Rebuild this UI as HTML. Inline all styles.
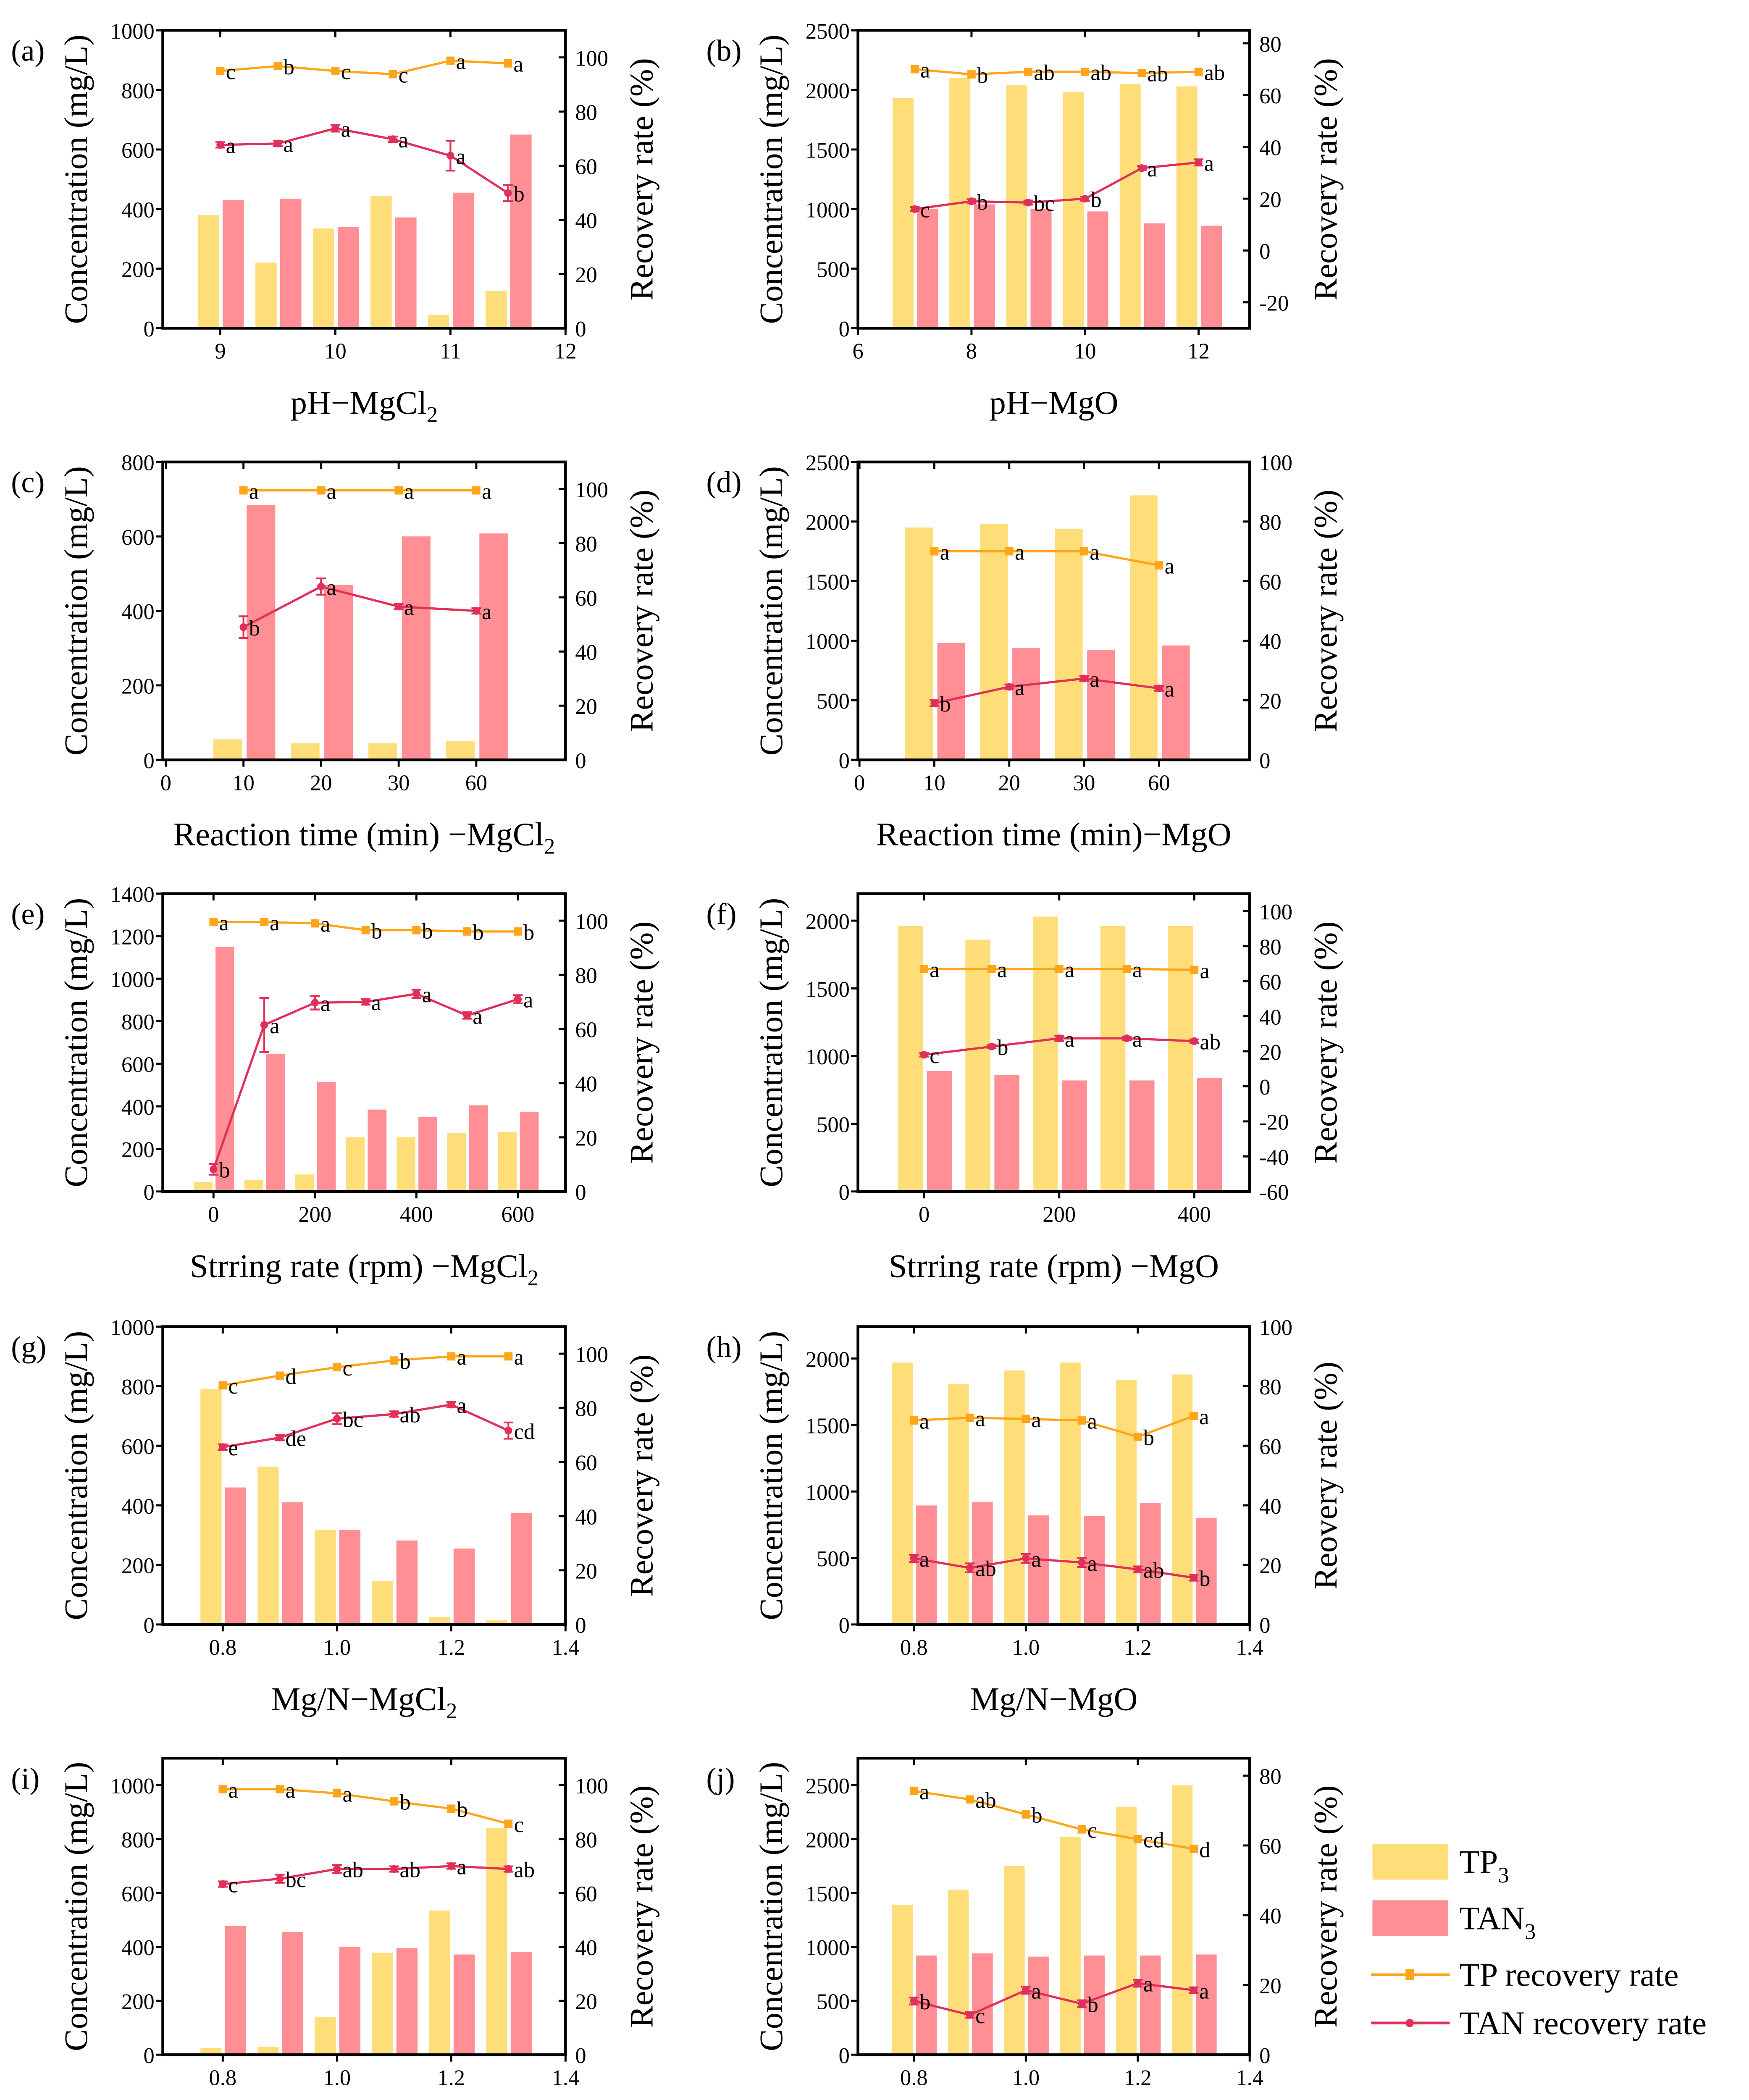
<!DOCTYPE html>
<html><head><meta charset="utf-8"><style>
html,body{margin:0;padding:0;background:#fff;overflow:hidden;width:4164px;height:5168px;}
svg{display:block;}
svg text{font-family:"Liberation Serif","Times New Roman",serif !important;}
</style></head><body>
<svg id="fig" xmlns="http://www.w3.org/2000/svg" width="4164" height="5168" viewBox="0 0 1268 1574" preserveAspectRatio="none" font-family="Liberation Serif, serif">
<rect width="1268" height="1574" fill="#fff"/>
<g font-family="Liberation Serif, serif">
<rect x="995" y="1337" width="55" height="26" fill="#FFDE7A"/>
<text x="1058" y="1358" font-size="24">TP<tspan font-size="16" dy="7">3</tspan></text>
<rect x="995" y="1378" width="55" height="26" fill="#FF8F94"/>
<text x="1058" y="1399" font-size="24">TAN<tspan font-size="16" dy="7">3</tspan></text>
<line x1="994" y1="1432" x2="1051" y2="1432" stroke="#FFA51A" stroke-width="2"/>
<rect x="1019" y="1428" width="6" height="8" fill="#FFA51A"/>
<text x="1058" y="1440" font-size="24">TP recovery rate</text>
<line x1="994" y1="1467" x2="1051" y2="1467" stroke="#E0305A" stroke-width="2"/>
<circle cx="1022" cy="1467" r="3" fill="#E0305A"/>
<text x="1058" y="1475" font-size="24">TAN recovery rate</text>
</g>
</svg>
<script>
// (a)
const aCats=[9,9.5,10,10.5,11,11.5];
const aTP=[380,220,335,445,45,125];
const aTAN=[430,435,340,372,455,650];
const aTPR=[95,96.8,95,93.8,98.8,97.8];
const aTANR=[67.7,68.2,73.8,69.8,63.7,49.9];
const aTANErr=[1,1,1.2,1,5.5,3];
const aTPL=['c','b','c','c','a','a'];
const aTANL=['a','a','a','a','a','b'];
const aXT=[9,10,11,12];
const aYT=[0,200,400,600,800,1000];
const aRT=[0,20,40,60,80,100];
// (b)
const bCats=[7,8,9,10,11,12];
const bTP=[1930,2100,2040,1980,2050,2030];
const bTAN=[1000,1040,1000,980,880,860];
const bTPR=[70,68,69,69,68.5,69];
const bTANR=[16,19,18.5,20,31.8,34];
const bTANErr=[0.8,0.8,0.8,0.8,0.8,1.2];
const bTPL=['a','b','ab','ab','ab','ab'];
const bTANL=['c','b','bc','b','a','a'];
const bXT=[6,8,10,12];
const bYT=[0,500,1000,1500,2000,2500];
const bRT=[-20,0,20,40,60,80];
// (c)
const cCats=[1,2,3,4];
const cTP=[55,45,45,50];
const cTAN=[685,470,600,608];
const cTPR=[99.5,99.5,99.5,99.5];
const cTANR=[49,64,56.6,55];
const cTANErr=[4,3,1,1];
const cTPL=['a','a','a','a'];
const cTANL=['b','a','a','a'];
const cXT=[0,1,2,3,4];
const cXL=['0','10','20','30','60'];
const cYT=[0,200,400,600,800];
const cRT=[0,20,40,60,80,100];
// (d)
const dCats=[1,2,3,4];
const dTP=[1950,1980,1940,2220];
const dTAN=[980,940,920,960];
const dTPR=[70,70,70,65.3];
const dTANR=[19,24.5,27.3,24];
const dTANErr=[1,0.8,0.8,0.8];
const dTPL=['a','a','a','a'];
const dTANL=['b','a','a','a'];
const dXT=[0,1,2,3,4];
const dXL=['0','10','20','30','60'];
const dYT=[0,500,1000,1500,2000,2500];
const dRT=[0,20,40,60,80,100];
// (e)
const eCats=[0,100,200,300,400,500,600];
const eTP=[45,55,80,255,255,275,280];
const eTAN=[1150,645,515,385,350,405,375];
const eTPR=[99.5,99.5,99,96.5,96.5,96,96];
const eTANR=[8.2,61.5,69.7,70,73,65,71];
const eTANErr=[2,10,2.5,1,1.5,1.2,1.5];
const eTPL=['a','a','a','b','b','b','b'];
const eTANL=['b','a','a','a','a','a','a'];
const eXT=[0,200,400,600];
const eYT=[0,200,400,600,800,1000,1200,1400];
const eRT=[0,20,40,60,80,100];
// (f)
const fCats=[0,100,200,300,400];
const fTP=[1960,1860,2030,1960,1960];
const fTAN=[890,860,820,820,840];
const fTPR=[67,67,67,67,66.5];
const fTANR=[18,22.7,27.4,27.4,25.8];
const fTANErr=[1,1,1.5,1,1];
const fTPL=['a','a','a','a','a'];
const fTANL=['c','b','a','a','ab'];
const fXT=[0,200,400];
const fYT=[0,500,1000,1500,2000];
const fRT=[-60,-40,-20,0,20,40,60,80,100];
// (g)
const gCats=[0.8,0.9,1.0,1.1,1.2,1.3];
const gTP=[790,530,318,145,25,15];
const gTAN=[460,410,318,282,255,375];
const gTPR=[88.3,91.9,95,97.5,99,99];
const gTANR=[65.5,69,76,77.7,81.2,71.6];
const gTANErr=[1,1,2,1,1,3];
const gTPL=['c','d','c','b','a','a'];
const gTANL=['e','de','bc','ab','a','cd'];
const gXT=[0.8,1.0,1.2,1.4];
const gXL=['0.8','1.0','1.2','1.4'];
const gYT=[0,200,400,600,800,1000];
const gRT=[0,20,40,60,80,100];
// (h)
const hCats=[0.8,0.9,1.0,1.1,1.2,1.3];
const hTP=[1970,1810,1910,1970,1840,1880];
const hTAN=[895,920,820,815,915,800];
const hTPR=[68.5,69.4,69,68.5,63,70];
const hTANR=[22.2,19,22.2,20.8,18.5,15.7];
const hTANErr=[1.2,1.5,1.5,1.5,1,1];
const hTPL=['a','a','a','a','b','a'];
const hTANL=['a','ab','a','a','ab','b'];
const hXT=[0.8,1.0,1.2,1.4];
const hXL=['0.8','1.0','1.2','1.4'];
const hYT=[0,500,1000,1500,2000];
const hRT=[0,20,40,60,80,100];
// (i)
const iCats=[0.8,0.9,1.0,1.1,1.2,1.3];
const iTP=[25,30,140,378,535,840];
const iTAN=[478,455,400,395,372,382];
const iTPR=[98.5,98.5,97,94,91.3,85.7];
const iTANR=[63.3,65.3,68.9,68.9,70,68.9];
const iTANErr=[1,1.5,1.5,1,1,1];
const iTPL=['a','a','a','b','b','c'];
const iTANL=['c','bc','ab','ab','a','ab'];
const iXT=[0.8,1.0,1.2,1.4];
const iXL=['0.8','1.0','1.2','1.4'];
const iYT=[0,200,400,600,800,1000];
const iRT=[0,20,40,60,80,100];
// (j)
const jCats=[0.8,0.9,1.0,1.1,1.2,1.3];
const jTP=[1390,1530,1750,2020,2300,2500];
const jTAN=[920,940,910,920,920,930];
const jTPR=[75.6,73.2,68.9,64.6,61.8,59];
const jTANR=[15.4,11.4,18.5,14.6,20.5,18.5];
const jTANErr=[1,0.8,1,1,1,0.8];
const jTPL=['a','ab','b','c','cd','d'];
const jTANL=['b','c','a','b','a','a'];
const jXT=[0.8,1.0,1.2,1.4];
const jXL=['0.8','1.0','1.2','1.4'];
const jYT=[0,500,1000,1500,2000,2500];
const jRT=[0,20,40,60,80];

const NS='http://www.w3.org/2000/svg';
const svg=document.getElementById('fig');
const FF='Liberation Serif, serif';
function mk(tag,attrs,parent){const e=document.createElementNS(NS,tag);for(const k in attrs)e.setAttribute(k,attrs[k]);if(tag==='text')e.setAttribute('font-family',FF);(parent||svg).appendChild(e);return e;}

const L=[118,410],R=[622,906];
const panels=[
 {id:'a',box:[L[0],22,L[1],238],cats:aCats,step:0.5,xlim:[8.5,12],xt:aXT,xl:null,ylim:[0,1000],yt:aYT,rlim:[0,110],rt:aRT,tp:aTP,tan:aTAN,tpr:aTPR,tanr:aTANR,err:aTANErr,tpl:aTPL,tanl:aTANL,xt1:'pH\u2212MgCl',sub:'2',rtitle:'Recovery rate (%)'},
 {id:'b',box:[R[0],22,R[1],238],cats:bCats,step:1,xlim:[6,12.9],xt:bXT,xl:null,ylim:[0,2500],yt:bYT,rlim:[-30,85],rt:bRT,tp:bTP,tan:bTAN,tpr:bTPR,tanr:bTANR,err:bTANErr,tpl:bTPL,tanl:bTANL,xt1:'pH\u2212MgO',sub:'',rtitle:'Recovery rate (%)'},
 {id:'c',box:[L[0],335,L[1],551],cats:cCats,step:1,xlim:[-0.04,5.15],xt:cXT,xl:cXL,ylim:[0,800],yt:cYT,rlim:[0,110],rt:cRT,tp:cTP,tan:cTAN,tpr:cTPR,tanr:cTANR,err:cTANErr,tpl:cTPL,tanl:cTANL,xt1:'Reaction time (min) \u2212MgCl',sub:'2',rtitle:'Recovery rate (%)'},
 {id:'d',box:[R[0],335,R[1],551],cats:dCats,step:1,xlim:[-0.02,5.21],xt:dXT,xl:dXL,ylim:[0,2500],yt:dYT,rlim:[0,100],rt:dRT,tp:dTP,tan:dTAN,tpr:dTPR,tanr:dTANR,err:dTANErr,tpl:dTPL,tanl:dTANL,xt1:'Reaction time (min)\u2212MgO',sub:'',rtitle:'Recovery rate (%)'},
 {id:'e',box:[L[0],648,L[1],864],cats:eCats,step:100,xlim:[-100,694],xt:eXT,xl:null,ylim:[0,1400],yt:eYT,rlim:[0,110],rt:eRT,tp:eTP,tan:eTAN,tpr:eTPR,tanr:eTANR,err:eTANErr,tpl:eTPL,tanl:eTANL,xt1:'Strring rate (rpm) \u2212MgCl',sub:'2',rtitle:'Recovery rate (%)'},
 {id:'f',box:[R[0],648,R[1],864],cats:fCats,step:100,xlim:[-98,482],xt:fXT,xl:null,ylim:[0,2200],yt:fYT,rlim:[-60,110],rt:fRT,tp:fTP,tan:fTAN,tpr:fTPR,tanr:fTANR,err:fTANErr,tpl:fTPL,tanl:fTANL,xt1:'Strring rate (rpm) \u2212MgO',sub:'',rtitle:'Recovery rate (%)'},
 {id:'g',box:[L[0],962,L[1],1178],cats:gCats,step:0.1,xlim:[0.695,1.4],xt:gXT,xl:gXL,ylim:[0,1000],yt:gYT,rlim:[0,110],rt:gRT,tp:gTP,tan:gTAN,tpr:gTPR,tanr:gTANR,err:gTANErr,tpl:gTPL,tanl:gTANL,xt1:'Mg/N\u2212MgCl',sub:'2',rtitle:'Recovery rate (%)'},
 {id:'h',box:[R[0],962,R[1],1178],cats:hCats,step:0.1,xlim:[0.7,1.4],xt:hXT,xl:hXL,ylim:[0,2240],yt:hYT,rlim:[0,100],rt:hRT,tp:hTP,tan:hTAN,tpr:hTPR,tanr:hTANR,err:hTANErr,tpl:hTPL,tanl:hTANL,xt1:'Mg/N\u2212MgO',sub:'',rtitle:'Reovery rate (%)'},
 {id:'i',box:[L[0],1275,L[1],1490],cats:iCats,step:0.1,xlim:[0.695,1.4],xt:iXT,xl:iXL,ylim:[0,1100],yt:iYT,rlim:[0,110],rt:iRT,tp:iTP,tan:iTAN,tpr:iTPR,tanr:iTANR,err:iTANErr,tpl:iTPL,tanl:iTANL,xt1:'P/N\u2212MgCl',sub:'2',rtitle:'Recovery rate (%)'},
 {id:'j',box:[R[0],1275,R[1],1490],cats:jCats,step:0.1,xlim:[0.7,1.4],xt:jXT,xl:jXL,ylim:[0,2750],yt:jYT,rlim:[0,85],rt:jRT,tp:jTP,tan:jTAN,tpr:jTPR,tanr:jTANR,err:jTANErr,tpl:jTPL,tanl:jTANL,xt1:'P/N\u2212MgO',sub:'',rtitle:'Recovery rate (%)'}
];

function draw(p){
 const [x0,y0,x1,y1]=p.box;
 const g=mk('g',{});
 
 
 const X=v=>x0+(v-p.xlim[0])/(p.xlim[1]-p.xlim[0])*(x1-x0);
 const Y=v=>y1-(v-p.ylim[0])/(p.ylim[1]-p.ylim[0])*(y1-y0);
 const RY=v=>y1-(v-p.rlim[0])/(p.rlim[1]-p.rlim[0])*(y1-y0);
 const w=p.step*0.37, gap=p.step*0.04;
 p.cats.forEach((c,i)=>{
  const r1=mk('rect',{x:X(c-w-gap/2),y:Y(p.tp[i]),width:X(c)-X(c-w),height:Y(0)-Y(p.tp[i]),fill:'#FFDE7A'},g);
  
  
  const r2=mk('rect',{x:X(c+gap),y:Y(p.tan[i]),width:X(c)-X(c-w),height:Y(0)-Y(p.tan[i]),fill:'#FF8F94'},g);
  
  
 });
 const tpPts=p.cats.map((c,i)=>X(c)+','+RY(p.tpr[i])).join(' ');
 const l1=mk('polyline',{points:tpPts,fill:'none',stroke:'#FFA51A','stroke-width':1.6},g);
 
 
 const tanPts=p.cats.map((c,i)=>X(c)+','+RY(p.tanr[i])).join(' ');
 const l2=mk('polyline',{points:tanPts,fill:'none',stroke:'#E0305A','stroke-width':1.6},g);
 
 
 p.cats.forEach((c,i)=>{
  const px=X(c),py=RY(p.tpr[i]);
  const m=mk('rect',{x:px-3,y:py-3,width:6,height:6,fill:'#FFA51A'},g);
  
  
  const t=mk('text',{x:px+4,y:py+6,'font-size':16},g);t.textContent=p.tpl[i];
  
  
  const qy=RY(p.tanr[i]);
  const e=p.err[i];
  const eb=mk('path',{d:`M${px},${RY(p.tanr[i]+e)}V${RY(p.tanr[i]-e)}M${px-3.5},${RY(p.tanr[i]+e)}h7M${px-3.5},${RY(p.tanr[i]-e)}h7`,stroke:'#E0305A','stroke-width':1.3,fill:'none'},g);
  
  
  const cc=mk('circle',{cx:px,cy:qy,r:2.8,fill:'#E0305A'},g);
  
  
  const t2=mk('text',{x:px+4,y:qy+6,'font-size':16},g);t2.textContent=p.tanl[i];
  
  
 });
 const fr=mk('path',{d:`M${x0},${y0}H${x1}V${y1}H${x0}Z`,fill:'none',stroke:'#000','stroke-width':2},g);
 
 
 p.xt.forEach((v,i)=>{
  const px=X(v);
  mk('path',{d:`M${px},${y1}v5M${px},${y0}v5`,stroke:'#000','stroke-width':1.5},g);
  const t=mk('text',{x:px,y:y1+22,'font-size':16,'text-anchor':'middle'},g);
  t.textContent=p.xl?p.xl[i]:String(v);
  
  
 });
 p.yt.forEach(v=>{
  const py=Y(v);
  mk('path',{d:`M${x0-5},${py}h5`,stroke:'#000','stroke-width':1.5},g);
  const t=mk('text',{x:x0-6,y:py+6,'font-size':16,'text-anchor':'end'},g);
  t.textContent=String(v);
  
  
 });
 p.rt.forEach(v=>{
  const py=RY(v);
  mk('path',{d:`M${x1-5},${py}h5`,stroke:'#000','stroke-width':1.5},g);
  const t=mk('text',{x:x1+7,y:py+6,'font-size':16},g);
  t.textContent=String(v);
  
  
 });
 const cy=(y0+y1)/2;
 const yt=mk('text',{x:0,y:0,'font-size':24,'text-anchor':'middle',transform:`translate(${x0-55},${cy}) rotate(-90)`},g);
 yt.textContent='Concentration (mg/L)';
 
 
 const rtt=mk('text',{x:0,y:0,'font-size':24,'text-anchor':'middle',transform:`translate(${x1+63},${cy}) rotate(-90)`},g);
 rtt.textContent=p.rtitle;
 
 
 const xt=mk('text',{x:(x0+x1)/2,y:y1+62,'font-size':24,'text-anchor':'middle'},g);
 xt.textContent=p.xt1;
 if(p.sub){const s=mk('tspan',{'font-size':16,dy:6},xt);s.textContent=p.sub;}
 
 
 const pl=mk('text',{x:x0-110,y:y0+22,'font-size':22},g);
 pl.textContent='('+p.id+')';
 
 
}
panels.forEach(draw);
</script>
</body></html>
